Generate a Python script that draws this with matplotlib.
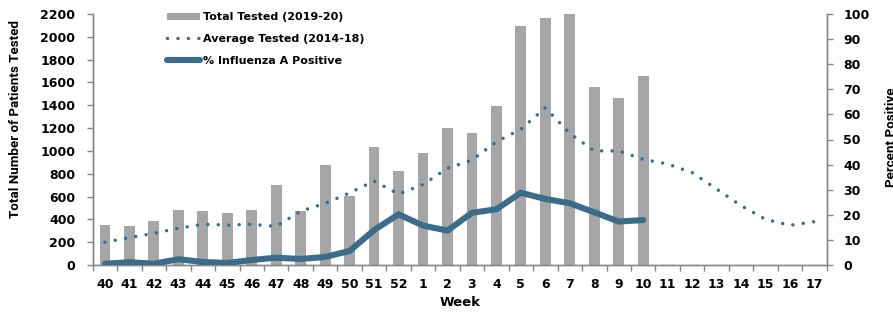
import matplotlib
matplotlib.use("Agg")
import matplotlib.pyplot as plt
from matplotlib.patches import Patch
from matplotlib.lines import Line2D
import numpy as np

weeks = ["40", "41", "42", "43", "44", "45", "46", "47", "48", "49", "50", "51", "52",
         "1", "2", "3", "4", "5", "6", "7", "8", "9", "10", "11", "12", "13", "14", "15", "16", "17"]
total_tested = [350, 340, 390, 485, 470, 460, 485, 705, 470, 880, 605, 1035, 827,
                980, 1200, 1157, 1396, 2095, 2168, 2205, 1560, 1464, 1654]
avg_tested = [200, 240, 278, 322, 357, 350, 357, 338, 472, 540, 632, 736, 622,
              705, 848, 920, 1080, 1190, 1378, 1154, 1000, 1000, 926, 885, 810, 666, 520, 400, 348, 380]
pct_flu_a = [0.5, 1.1, 0.5, 2.3, 1.2, 0.8, 2.0, 2.9, 2.4, 3.2, 5.6, 13.9, 20.2,
             15.7, 13.7, 20.8, 22.2, 28.8, 26.3, 24.6, 21.0, 17.3, 17.9]

BLUE = "#3b6d8a"
GRAY = "#a6a6a6"
AXC = "#868686"

fig = plt.figure(figsize=(8.93, 3.12), dpi=100)
ax = fig.add_axes([92.7 / 893, 1 - 265 / 312, (826.7 - 92.7) / 893, (265 - 14) / 312])
ax2 = ax.twinx()

x = np.arange(len(weeks))
ax.bar(x[:len(total_tested)], total_tested, width=0.44, color=GRAY, zorder=1)
ax2.plot(x[:len(avg_tested)], [v / 22.0 for v in avg_tested], color=BLUE, lw=2.5,
         linestyle=(0, (0.01, 3.0)), dash_capstyle="round", zorder=2)
ax2.plot(x[:len(pct_flu_a)], pct_flu_a, color=BLUE, lw=4.4, solid_capstyle="round",
         solid_joinstyle="round", zorder=3)

ax.set_xlim(-0.5, len(weeks) - 0.5)
ax.set_ylim(0, 2200)
ax2.set_ylim(0, 100)
ax.set_yticks(np.arange(0, 2201, 200))
ax2.set_yticks(np.arange(0, 101, 10))
ax.set_xticks(x)
ax.set_xticklabels(weeks)
ax.set_xticks(np.arange(-0.5, len(weeks), 1.0), minor=True)

for lab in ax.get_xticklabels() + ax.get_yticklabels() + ax2.get_yticklabels():
    lab.set_fontweight("bold")
    lab.set_fontsize(9)

ax.tick_params(axis="x", which="major", length=0, pad=9.5)
ax.tick_params(axis="x", which="minor", length=4, color=AXC, width=1, direction="out")
ax.tick_params(axis="y", length=4, color=AXC, width=1, pad=8.5)
ax2.tick_params(axis="y", length=4, color=AXC, width=1, pad=8)

for a in (ax, ax2):
    a.spines["top"].set_visible(False)
    for s in ("left", "right", "bottom"):
        a.spines[s].set_color(AXC)
        a.spines[s].set_linewidth(1)

ax.set_xlabel("Week", fontsize=9.5, fontweight="bold")
ax.xaxis.set_label_coords(0.5, -0.123)
ax.xaxis.label.set_verticalalignment("top")

ax.set_ylabel("Total Number of Patients Tested", fontsize=9.6, fontweight="bold",
              family=["Roboto", "DejaVu Sans"])
ax.yaxis.set_label_coords(-0.1045, 0.582)
ax.yaxis.label.set_verticalalignment("center")

ax2.set_ylabel("Percent Positive", fontsize=9.6, fontweight="bold",
               family=["Roboto", "DejaVu Sans"], rotation=90)
ax2.yaxis.set_label_coords(1.0877, 0.51)
ax2.yaxis.label.set_verticalalignment("center")

handles = [Patch(facecolor=GRAY, edgecolor="none"),
           Line2D([], [], color=BLUE, lw=2.5, linestyle=(0, (0.01, 3.0)), dash_capstyle="round"),
           Line2D([], [], color=BLUE, lw=4.4, solid_capstyle="round")]
labels = ["Total Tested (2019-20)", "Average Tested (2014-18)", "% Influenza A Positive"]
leg = fig.legend(handles, labels, loc="upper left", bbox_to_anchor=(166.7 / 893, 1 - 12 / 312),
                 frameon=False, prop=dict(size=8, weight="bold"), handlelength=2.97,
                 handletextpad=0.27, labelspacing=1.07, handleheight=0.6, borderpad=0, borderaxespad=0)

fig.savefig("out.png", dpi=100)
